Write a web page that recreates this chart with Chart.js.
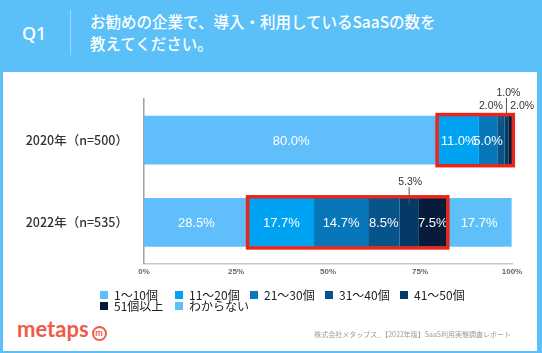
<!DOCTYPE html>
<html lang="ja">
<head>
<meta charset="utf-8">
<script src="https://cdn.jsdelivr.net/npm/chart.js@4"></script>
<style>
  html, body { margin: 0; padding: 0; }
  body {
    width: 542px; height: 353px; position: relative; overflow: hidden;
    background: #5bbff8;
    font-family: "Noto Sans CJK JP", "Noto Sans", sans-serif;
  }
  .panel { position: absolute; left: 3px; top: 72px; width: 534px; height: 279px; background: #fff; }
  .q { position: absolute; left: 22px; top: 21px; color: #fff; font: 500 18px "Noto Sans", sans-serif; }
  .sep { position: absolute; left: 70px; top: 10px; width: 1px; height: 45px; background: #9bd7fb; }
  .title { position: absolute; left: 90px; top: 11px; color: #fff; font-size: 15.5px; font-weight: 500; line-height: 21.5px; }
  canvas { position: absolute; left: 0; top: 72px; }
  .legend { position: absolute; left: 100px; top: 289px; font-size: 12px; line-height: 11px; color: #222; }
  .legend .row { display: flex; height: 11px; }
  .legend .item { width: 75px; display: flex; align-items: center; white-space: nowrap; }
  .legend .box { width: 8px; height: 8px; margin-right: 6px; flex: none; }
  .logo { position: absolute; left: 17px; top: 315px; color: #ef5a4b; font: 700 22px Lato, sans-serif; letter-spacing: 0; }
  .logo .m { display: inline-block; width: 11px; height: 11px; border: 2px solid #ef5a4b; border-radius: 50%;
             font-size: 9px; line-height: 10px; text-align: center; vertical-align: 1px; margin-left: 3px; }
  .foot { position: absolute; right: 31px; top: 329px; color: #9a9a9a; font-size: 7px; }
</style>
</head>
<body>
<div class="q">Q1</div>
<div class="sep"></div>
<div class="title">お勧めの企業で、導入・利用しているSaaSの数を<br>教えてください。</div>
<div class="panel"></div>
<canvas id="chart" width="542" height="215"></canvas>
<div class="legend" id="legend"></div>
<div class="logo">metaps<span class="m">m</span></div>
<div class="foot">株式会社メタップス_【2022年版】SaaS利用実態調査レポート</div>

<script>
// 回答データ（%）
const years = ['2020年（n=500）', '2022年（n=535）'];
const groups = ['1～10個', '11～20個', '21～30個', '31～40個', '41～50個', '51個以上', 'わからない'];
const y2020 = [80.0, 11.0, 5.0, 2.0, 1.0, 2.0, 0];
const y2022 = [28.5, 17.7, 14.7, 8.5, 5.3, 7.5, 17.7];
const xTicks = [0, 25, 50, 75, 100];

const colors = ['#60befb', '#00a2f2', '#0877ba', '#07548a', '#063a66', '#071b3a', '#5fc0f9'];

// 小さい値はバーの上に引き出し線つきで表示
const callouts = {
  '3:0': { dx: -10, rise: 10, lineFrom: 0, lineTo: 7 },
  '4:0': { dx: 2, rise: 23, lineFrom: -18, lineTo: 2 },
  '5:0': { dx: 12, rise: 10, lineFrom: null },
  '4:1': { dx: 1, rise: 16, lineFrom: -11, lineTo: 6 }
};
const boxFrom = 1, boxTo = 5; // 赤枠で囲む区分

const datasets = groups.map((g, i) => ({
  label: g,
  data: [y2020[i], y2022[i]],
  backgroundColor: colors[i],
  borderWidth: 0
}));

const segLabels = {
  id: 'segLabels',
  afterDatasetsDraw(chart) {
    const ctx = chart.ctx;
    const area = chart.chartArea;
    const seg = (di, i) => {
      const p = chart.getDatasetMeta(di).data[i].getProps(['x', 'y', 'base', 'height'], true);
      const l = Math.min(p.base, area.right), r = Math.min(p.x, area.right);
      return { l, r, cx: (l + r) / 2, y: p.y, top: p.y - p.height / 2, h: p.height };
    };
    ctx.save();
    ctx.textAlign = 'center';
    ctx.textBaseline = 'middle';
    chart.data.datasets.forEach((ds, di) => {
      ds.data.forEach((v, i) => {
        if (!v) return;
        const s = seg(di, i);
        const text = v.toFixed(1) + '%';
        const c = callouts[di + ':' + i];
        if (c) {
          ctx.font = '10.5px "Liberation Sans", Arial, sans-serif';
          ctx.fillStyle = '#333';
          ctx.fillText(text, s.cx + c.dx, s.top - c.rise);
          if (c.lineFrom !== null) {
            ctx.strokeStyle = '#555';
            ctx.lineWidth = 1;
            ctx.beginPath();
            ctx.moveTo(s.cx, s.top + c.lineFrom);
            ctx.lineTo(s.cx, s.top + c.lineTo);
            ctx.stroke();
          }
        } else {
          ctx.font = '13px "Liberation Sans", Arial, sans-serif';
          ctx.fillStyle = '#fff';
          ctx.fillText(text, s.cx, s.y + 1);
        }
      });
    });
    // 赤枠
    ctx.strokeStyle = '#e8271c';
    ctx.lineWidth = 3.5;
    for (let i = 0; i < years.length; i++) {
      const a = seg(boxFrom, i), b = seg(boxTo, i);
      ctx.strokeRect(a.l - 1.3, a.top - 1.3, b.r - a.l + 2.6, a.h + 2.6);
    }
    ctx.restore();
  }
};

new Chart(document.getElementById('chart'), {
  type: 'bar',
  data: { labels: years, datasets: datasets },
  options: {
    indexAxis: 'y',
    responsive: false,
    animation: false,
    layout: { padding: { top: 27, right: 30, left: 0, bottom: 0 } },
    datasets: { bar: { categoryPercentage: 1, barPercentage: 0.59 } },
    scales: {
      x: {
        stacked: true, min: 0, max: 100,
        afterBuildTicks: (s) => { s.ticks = xTicks.map(v => ({ value: v })); },
        afterFit: (s) => { s.height = 22; },
        grid: { display: false, drawTicks: false },
        border: { color: '#c8c8c8', width: 1.5 },
        ticks: { padding: 3, color: '#666', font: { size: 8, weight: 'bold', family: '"Liberation Sans", Arial, sans-serif' },
                 callback: (v) => v + '%', maxRotation: 0 }
      },
      y: {
        stacked: true,
        afterFit: (s) => { s.width = 144; },
        grid: { display: false, drawTicks: false },
        border: { color: '#a0a0a0', width: 1.5 },
        ticks: { padding: 16, color: '#333', font: { size: 12.5, weight: '500', family: '"Noto Sans CJK JP", sans-serif' } }
      }
    },
    plugins: { legend: { display: false }, tooltip: { enabled: false } }
  },
  plugins: [segLabels]
});

// 凡例（5列で折り返し）
const legend = document.getElementById('legend');
for (let r = 0; r < groups.length; r += 5) {
  const row = document.createElement('div');
  row.className = 'row';
  groups.slice(r, r + 5).forEach((g, k) => {
    const item = document.createElement('div');
    item.className = 'item';
    item.innerHTML = '<span class="box" style="background:' + colors[r + k] + '"></span>' + g;
    row.appendChild(item);
  });
  legend.appendChild(row);
}
</script>
</body>
</html>
